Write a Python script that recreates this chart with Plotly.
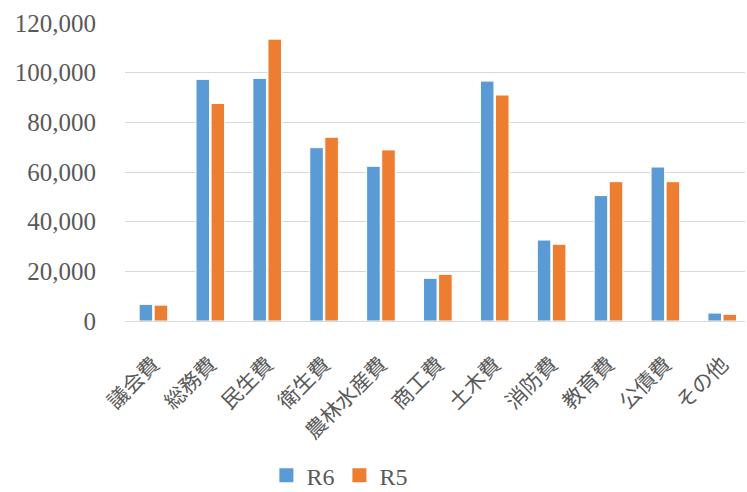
import plotly.graph_objects as go

categories = ["議会費", "総務費", "民生費", "衛生費", "農林水産費", "商工費",
              "土木費", "消防費", "教育費", "公債費", "その他"]
r6_values = [6700, 97300, 97700, 69800, 62300, 17200, 96600, 32600, 50500, 62000, 3200]
r5_values = [6400, 87600, 113500, 74000, 68900, 18800, 91000, 30900, 56100, 56100, 2700]
y_ticks = [0, 20000, 40000, 60000, 80000, 100000, 120000]
y_tick_labels = ["0", "20,000", "40,000", "60,000", "80,000", "100,000", "120,000"]

font_family = "Liberation Serif, Noto Sans CJK JP, serif"
grey = "#595959"
blue = "#5B9BD5"
orange = "#ED7D31"

fig = go.Figure()
fig.add_trace(go.Bar(name="R6", x=categories, y=r6_values, showlegend=False,
                     marker=dict(color=blue, line=dict(color="white", width=1))))
fig.add_trace(go.Bar(name="R5", x=categories, y=r5_values, showlegend=False,
                     marker=dict(color=orange, line=dict(color="white", width=1))))
# legend entries with larger square symbols
fig.add_trace(go.Scatter(name="R6", x=[None], y=[None], mode="markers",
                         marker=dict(symbol="square", size=14, color=blue)))
fig.add_trace(go.Scatter(name="R5", x=[None], y=[None], mode="markers",
                         marker=dict(symbol="square", size=14, color=orange)))

fig.update_layout(
    width=747, height=492,
    margin=dict(l=125, r=2, t=23, b=171, autoexpand=False),
    paper_bgcolor="white", plot_bgcolor="white",
    barmode="group", bargap=0.47, bargroupgap=0.1,
    font=dict(family=font_family, color=grey, size=22),
    showlegend=True,
    legend=dict(orientation="h", xref="container", x=0.455, xanchor="center",
                yref="container", y=0.033, yanchor="middle",
                font=dict(family=font_family, size=24, color=grey), itemwidth=30,
                itemsizing="trace", tracegroupgap=0, bgcolor="rgba(0,0,0,0)"),
    xaxis=dict(tickangle=-45, showgrid=False, showline=False, ticks="",
               range=[-0.5, 10.4], tickfont=dict(size=21, color=grey),
               ticklabelstandoff=26, automargin=False),
    yaxis=dict(range=[0, 120000], tickvals=y_ticks, ticktext=y_tick_labels,
               showgrid=True, gridcolor="#D9D9D9", gridwidth=1.3, zeroline=True,
               zerolinecolor="#D9D9D9", zerolinewidth=1.3, showline=False,
               tickfont=dict(size=25, color=grey), ticklabelstandoff=28,
               automargin=False),
)

fig.write_html("out.html")
